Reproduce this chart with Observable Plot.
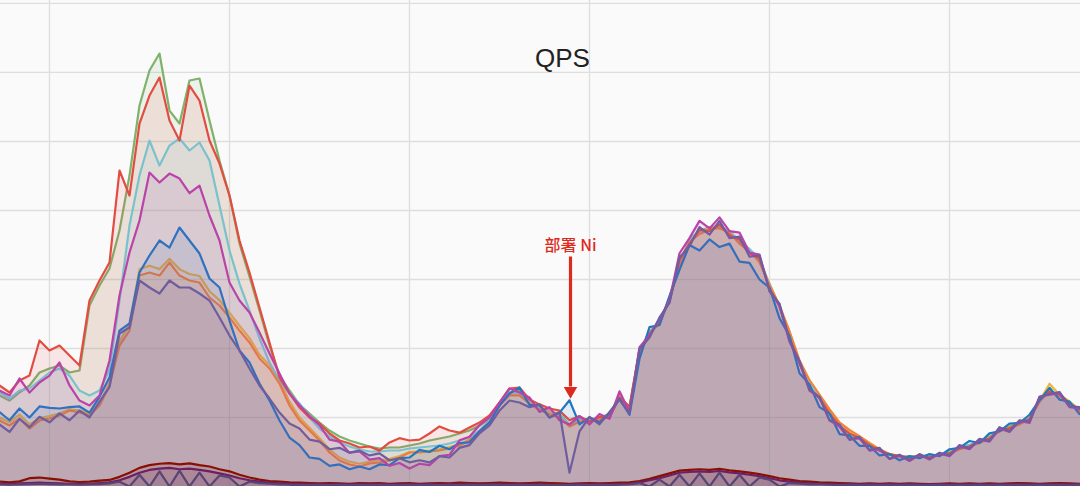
<!DOCTYPE html>
<html><head><meta charset="utf-8">
<script src="https://cdn.jsdelivr.net/npm/d3@7"></script>
<script src="https://cdn.jsdelivr.net/npm/@observablehq/plot@0.6"></script>
<style>html,body{margin:0;padding:0;background:#fafafa;overflow:hidden}</style>
</head><body><div id="chart"></div>
<script>
// ---- time axis ----
const startTime = "2024-03-01T23:10:00Z";   // first sample
const sampleMinutes = 10;
const viewStart = "2024-03-01T23:11:00Z";
const viewEnd = "2024-03-02T17:11:00Z";
const gridHours = 3;
const qpsTicks = [1000, 2000, 3000, 4000, 5000, 6000, 7000];
const qpsMax = 7043;

// ---- series (QPS, one sample every 10 minutes) ----
const seriesNames = ["green", "yellow", "cyan", "orange", "red", "blue", "magenta", "purple", "darkred", "plum", "slate"];
const seriesColors = ["#7EB26D", "#EAB839", "#6ED0E0", "#EF843C", "#E24D42", "#1F78C1", "#BA43A9", "#705DA0", "#890F02", "#6D1F62", "#584477"];

const qpsGreen = [1319,1246,1362,1464,1652,1710,1753,1652,1681,2623,2912,3159,3709,4506,5521,6028,6274,5448,5260,5883,5912,5303,4724,4217,3521,3043,2550,2043,1608,1391,1188,1058,927,811,725,667,623,580,551,565,565,594,623,667,696,725,768,811,884,985,1174,1362,1391,
 1230,1150,1090,1050,900,980,970,1000,1050,1300,1150,1960,2250,2350,2750,3220,3580,3700,3760,3740,3700,3560,3440,3250,2940,2600,2210,1780,1490,1270,1060,870,760,690,590,520,460,430,430,440,450,460,500,560,600,640,720,800,870,920,990,1230,1380,1330,1230,1110,1080];
const qpsYellow = [1000,930,1040,900,990,1020,1060,1120,1100,1060,1200,1500,2100,2350,3150,3200,3150,3300,3150,3080,3050,2830,2700,2520,2330,2150,1910,1760,1540,1230,1000,850,700,540,420,360,330,360,380,400,440,500,510,520,540,570,610,680,800,940,1180,1330,1330,
 1220,1120,1080,1020,900,960,950,990,1020,1330,1120,1930,2240,2380,2700,3250,3550,3690,3750,3780,3690,3520,3430,3290,2930,2620,2240,1810,1530,1320,1110,920,810,720,620,530,460,430,420,440,440,450,500,550,590,650,710,810,860,920,990,1240,1490,1330,1230,1110,1080];
const qpsCyan = [1362,1275,1391,1420,1536,1652,1710,1608,1391,1319,1390,1700,2695,3782,4506,5014,4651,4941,5043,4869,4985,4724,4072,3420,2941,2550,2145,1797,1536,1348,1203,1000,840,725,638,580,536,507,507,522,522,551,565,580,594,623,667,710,811,956,1188,1362,1362,
 1210,1140,1060,1040,890,960,960,980,1040,1310,1140,1950,2230,2370,2740,3240,3580,3700,3720,3770,3700,3550,3440,3300,2930,2600,2210,1790,1500,1290,1060,870,760,690,600,520,460,440,430,440,440,460,490,560,600,640,700,810,850,910,980,1240,1380,1320,1210,1100,1070];
const qpsOrange = [956,884,985,840,956,985,1029,1101,1072,1029,1174,1464,2043,2260,3057,3101,3057,3246,3057,2985,2956,2739,2623,2449,2260,2087,1855,1710,1492,1174,956,811,667,493,377,319,290,333,348,377,420,493,493,507,522,551,594,667,782,927,1174,1319,1319,
 1200,1110,1050,1000,870,940,950,970,1010,1300,1120,1920,2220,2360,2700,3230,3540,3660,3720,3750,3670,3520,3400,3260,2920,2620,2250,1830,1540,1330,1120,930,820,730,630,540,470,440,430,440,430,450,480,540,580,630,700,800,850,900,980,1230,1400,1310,1210,1090,1060];
const qpsRed = [1464,1362,1536,1608,2116,1971,2043,1898,1753,2695,2985,3246,4579,4217,5260,5666,5926,5303,5014,5810,5593,5014,4680,4217,3565,3101,2594,2087,1579,1348,1145,1000,913,768,667,623,565,580,520,638,700,667,680,768,870,811,780,855,927,1029,1217,1420,1435,
 1260,1190,1130,1100,960,1020,940,1010,1000,1290,1160,1990,2200,2420,2680,3290,3520,3720,3700,3800,3640,3580,3380,3310,2870,2620,2150,1790,1430,1280,1060,880,770,700,600,520,470,440,410,450,420,470,480,570,580,660,690,830,840,930,970,1260,1370,1340,1200,1120,1060];
const qpsBlue = [1080,960,1130,1000,1160,1140,1130,1150,1160,1070,1300,1580,2260,2362,3101,3347,3565,3463,3753,3565,3376,3014,2884,2405,1971,1797,1492,1246,956,710,600,420,400,300,320,250,290,250,320,310,410,420,530,500,590,540,630,640,800,927,1174,1348,1435,
 1180,1180,1000,1070,1250,900,1000,930,1060,1270,1040,1850,2310,2340,2760,3140,3500,3420,3580,3470,3520,3260,3240,3000,2880,2440,2180,1640,1480,1150,1060,760,740,590,590,450,470,380,440,410,470,440,540,560,660,630,770,800,910,920,1040,1250,1430,1260,1230,1050,1080];
const qpsMagenta = [1391,1319,1565,1362,1507,1608,1797,1464,1246,1174,1319,1826,2768,3391,3854,4550,4405,4535,4463,4250,4361,3927,3565,2956,2695,2521,2231,1927,1637,1348,1180,1020,890,680,650,490,510,390,410,300,340,260,330,310,440,460,670,720,890,1000,1217,1420,1362,
 1290,1080,1150,960,900,1020,900,1050,980,1380,1080,2020,2190,2420,2700,3380,3600,3850,3740,3900,3700,3680,3390,3360,2840,2620,2100,1800,1390,1290,960,870,680,700,520,540,400,450,370,460,390,480,440,580,540,680,650,840,790,950,920,1300,1330,1350,1150,1130,1010];
const qpsPurple = [900,790,980,860,1010,930,1060,960,1100,1000,1230,1440,2217,2304,2985,2884,2797,2985,2884,2884,2797,2695,2449,2188,1971,1710,1464,1275,1072,913,840,680,650,540,560,490,520,450,480,380,410,350,380,350,440,420,560,600,770,884,1101,1246,1217,
 1150,1190,1000,1080,200,800,1010,900,1080,1260,1060,1990,2160,2450,2660,3320,3480,3760,3650,3850,3600,3620,3330,3350,2830,2650,2110,1820,1400,1300,960,900,680,720,530,560,400,460,380,470,400,490,450,600,550,690,660,860,800,960,940,1300,1340,1370,1160,1150,1020];
const qpsDarkRed = [70,60,75,120,130,115,100,75,65,70, 85,95,140,200,270,310,330,340,320,335, 310,290,250,220,170,130,100,80,70,60, 55,50,45,50,45,40,50,45,50,40, 45,50,40,45,50,45,55,50,45,50, 55,50,45,50,55,50,45,40,45,50, 45,50,55,60,80,110,150,190,230,240, 250,240,255,235,220,200,180,150,120,100, 80,70,60,55,50,45,40,45,40,45, 40,45,40,35,40,45,40,45,40,45, 40,45,50,45,40,45,50,45,40,45];
const qpsPlum = [40,35,45,50,55,50,45,40,35,40, 50,60,90,140,200,240,260,270,250,260, 240,220,190,160,120,90,70,55,45,40, 35,30,35,30,35,30,35,30,35,30, 30,35,30,35,30,35,30,35,30,35, 35,30,35,30,35,30,0,30,35,30, 35,30,35,40,60,90,120,160,200,210, 220,210,225,205,190,170,150,120,90,70, 55,45,40,35,30,35,30,35,30,35, 30,35,30,30,35,30,35,30,35,30, 35,30,35,30,35,30,35,30,35,30];
const qpsSlate = [30,25,30,35,40,35,30,30,25,30, 35,45,70,0,170,0,220,0,230,0, 200,0,160,130,0,70,50,40,30,25, 25,20,25,20,25,20,25,20,25,20, 20,25,20,25,20,25,20,25,20,25, 25,20,25,20,25,20,25,20,25,20, 25,20,25,30,50,0,100,0,170,0, 190,0,200,0,170,0,130,100,0,50, 40,30,30,25,20,25,20,25,20,25, 20,25,20,20,25,20,25,20,25,20, 25,20,25,20,25,20,25,20,25,20];

const seriesValues = [qpsGreen, qpsYellow, qpsCyan, qpsOrange, qpsRed, qpsBlue, qpsMagenta, qpsPurple, qpsDarkRed, qpsPlum, qpsSlate];

// ---- annotation ----
const annotations = [{time: "2024-03-02T08:41:00Z", label: "部署 Ni", labelQps: 3490, lineTopQps: 3333, lineBottomQps: 1450, headQps: 1384}];

// ---- build ----
const t0 = new Date(startTime);
const seriesRows = seriesValues.map((vals, s) => vals.map((q, i) => ({
  series: seriesNames[s], time: d3.utcMinute.offset(t0, i * sampleMinutes), qps: q
})));
const xTicks = d3.utcHour.every(gridHours).range(new Date(viewStart), new Date(viewEnd));
const ann = annotations.map(a => ({...a, time: new Date(a.time)}));

const marks = [
  Plot.gridY(qpsTicks, {stroke: "#dedede", strokeOpacity: 1, strokeWidth: 1.3}),
  Plot.gridX(xTicks, {stroke: "#dedede", strokeOpacity: 1, strokeWidth: 1.3})
];
seriesRows.forEach((rows, s) => {
  marks.push(Plot.areaY(rows, {x: "time", y: "qps", fill: seriesColors[s], fillOpacity: 0.11}));
  marks.push(Plot.lineY(rows, {x: "time", y: "qps", stroke: seriesColors[s], strokeWidth: 2.2, strokeLinejoin: "round"}));
});
marks.push(
  Plot.text(["QPS"], {frameAnchor: "top", dx: 22, dy: 48, fontSize: 26, fill: "#222", fontFamily: "Liberation Sans, Arial, sans-serif"}),
  Plot.link(ann, {x1: "time", x2: "time", y1: "lineTopQps", y2: "lineBottomQps", stroke: "#dd2a1e", strokeWidth: 3.2}),
  Plot.dot(ann, {x: "time", y: "headQps", symbol: "triangle", r: 5, fill: "#dd2a1e", stroke: "none", rotate: 180}),
  Plot.text(ann, {x: "time", y: "labelQps", text: "label", fill: "#dd2a1e", fontSize: 16, fontWeight: 500, fontFamily: "Noto Sans CJK SC, sans-serif"})
);

const chart = Plot.plot({
  width: 1080, height: 486,
  margin: 0,
  style: {background: "#fafafa", overflow: "hidden"},
  x: {type: "utc", domain: [new Date(viewStart), new Date(viewEnd)], axis: null},
  y: {domain: [0, qpsMax], axis: null},
  marks
});
document.getElementById("chart").appendChild(chart);
</script>
</body></html>
